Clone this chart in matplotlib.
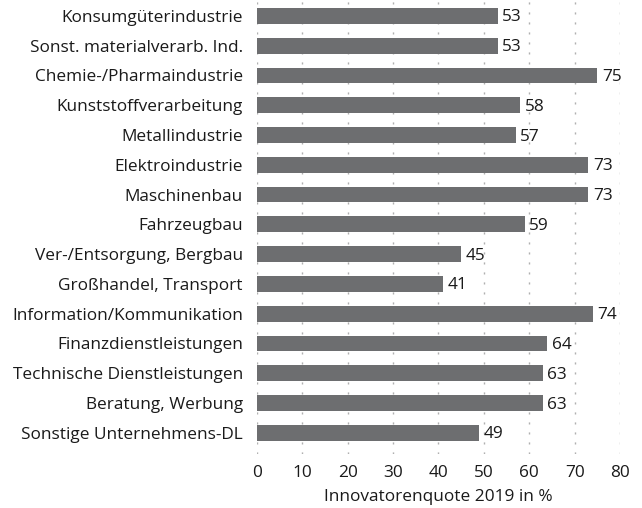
import matplotlib
matplotlib.use('Agg')
import matplotlib.pyplot as plt

plt.rcParams['font.family'] = ['Open Sans', 'DejaVu Sans']

branchen = ['Konsumgüterindustrie', 'Sonst. materialverarb. Ind.', 'Chemie-/Pharmaindustrie',
            'Kunststoffverarbeitung', 'Metallindustrie', 'Elektroindustrie', 'Maschinenbau',
            'Fahrzeugbau', 'Ver-/Entsorgung, Bergbau', 'Großhandel, Transport',
            'Information/Kommunikation', 'Finanzdienstleistungen', 'Technische Dienstleistungen',
            'Beratung, Werbung', 'Sonstige Unternehmens-DL']
quote = [53, 53, 75, 58, 57, 73, 73, 59, 45, 41, 74, 64, 63, 63, 49]
xticks = [0, 10, 20, 30, 40, 50, 60, 70, 80]

fs = 12.4
fig = plt.figure(figsize=(6.42, 5.08), dpi=100)
ax = fig.add_axes([0.400, 0.107, 0.566, 0.891])

pos = list(range(len(branchen)))
ax.barh(pos, quote, height=0.53, color='#6d6e70', zorder=2)
for p, v in zip(pos, quote):
    ax.text(v + 1.0, p + 0.05, str(v), va='center', ha='left', fontsize=fs, color='#1a1a1a')

ax.set_yticks(pos)
ax.set_yticklabels(branchen, fontsize=fs, color='#1a1a1a')
ax.set_xticks(xticks)
ax.set_xticklabels([str(t) for t in xticks], fontsize=fs, color='#1a1a1a')
ax.set_xlim(0, 80)
ax.set_ylim(len(branchen) - 0.3, -0.5)
ax.tick_params(length=0, pad=8)
ax.tick_params(axis='y', pad=10)
# sparse short dashes for the vertical grid
ax.xaxis.grid(True, linestyle=(0, (1.5, 5.7)), color='#b0b0b0', linewidth=1, zorder=0)
for s in ax.spines.values():
    s.set_visible(False)
ax.set_xlabel('Innovatorenquote 2019 in %', fontsize=fs, color='#1a1a1a', labelpad=6)

fig.savefig('out.png', dpi=100)
